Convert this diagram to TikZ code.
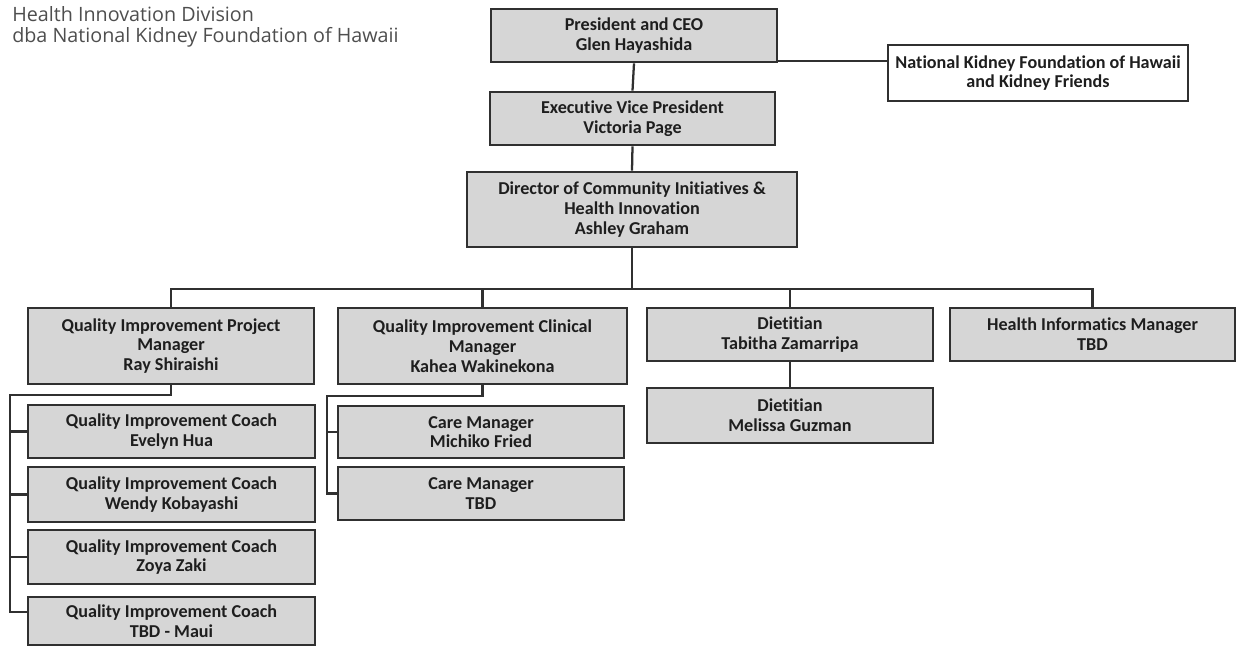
\documentclass[tikz,border=0pt]{standalone}
\usepackage{fontspec}
\setmainfont[Ligatures=NoCommon]{Carlito}
\newfontfamily\hdrfont{Open Sans}
\definecolor{boxfill}{HTML}{D6D6D6}
\definecolor{boxline}{HTML}{303030}
\definecolor{txt}{HTML}{1E1E1E}
\definecolor{hdrgray}{HTML}{4E4E4E}
\begin{document}
\begin{tikzpicture}[x=0.75pt,y=-0.75pt,
  orgbox/.style={draw=boxline,line width=2pt,fill=boxfill,inner sep=0pt,align=center,
    text=txt,font=\fontsize{13.6}{14.8}\selectfont\bfseries},
  wbox/.style={orgbox,fill=white},
  hdr/.style={anchor=base west,inner sep=0pt,text=hdrgray,font=\hdrfont\fontsize{14.8}{16}\selectfont},
  link/.style={draw=boxline,line width=1.7pt}]
\useasboundingbox (0,0) rectangle (1239,648);

% header
\node[hdr] (h1) at (12,22) {Health Innovation Division};
\node[hdr] (h2) at (12,43) {dba National Kidney Foundation of Hawaii};

% top
\node[orgbox,minimum width=286*0.75pt,minimum height=53*0.75pt] (ceo) at (634,35.5) {President and CEO\\Glen Hayashida};
\node[wbox,minimum width=300*0.75pt,minimum height=56*0.75pt] (nkf) at (1038,73) {National Kidney Foundation of Hawaii\\and Kidney Friends};
\node[orgbox,minimum width=285*0.75pt,minimum height=53*0.75pt] (evp) at (632.5,118.5) {Executive Vice President\\Victoria Page};
\node[orgbox,minimum width=330*0.75pt,minimum height=75*0.75pt] (dir) at (632,209.5) {Director of Community Initiatives \&\\Health Innovation\\Ashley Graham};

% second level
\node[orgbox,minimum width=286*0.75pt,minimum height=76*0.75pt] (qipm) at (171,346) {Quality Improvement Project\\Manager\\Ray Shiraishi};
\node[orgbox,minimum width=289*0.75pt,minimum height=76*0.75pt] (qicm) at (482.5,346) {Quality Improvement Clinical\\Manager\\Kahea Wakinekona};
\node[orgbox,minimum width=286*0.75pt,minimum height=53*0.75pt] (diet) at (790,334.5) {Dietitian\\Tabitha Zamarripa};
\node[orgbox,minimum width=285*0.75pt,minimum height=53*0.75pt] (him) at (1092.5,334.5) {Health Informatics Manager\\TBD};

% third level
\node[orgbox,minimum width=286*0.75pt,minimum height=55*0.75pt] (mel) at (790,415.5) {Dietitian\\Melissa Guzman};
\node[orgbox,minimum width=287*0.75pt,minimum height=53*0.75pt] (c1) at (171.5,431.5) {Quality Improvement Coach\\Evelyn Hua};
\node[orgbox,minimum width=287*0.75pt,minimum height=55*0.75pt] (c2) at (171.5,494.5) {Quality Improvement Coach\\Wendy Kobayashi};
\node[orgbox,minimum width=287*0.75pt,minimum height=54*0.75pt] (c3) at (171.5,557) {Quality Improvement Coach\\Zoya Zaki};
\node[orgbox,minimum width=287*0.75pt,minimum height=48*0.75pt] (c4) at (171.5,621) {Quality Improvement Coach\\TBD - Maui};
\node[orgbox,minimum width=286*0.75pt,minimum height=52*0.75pt] (cm1) at (481,432) {Care Manager\\Michiko Fried};
\node[orgbox,minimum width=286*0.75pt,minimum height=53*0.75pt] (cm2) at (481,493.5) {Care Manager\\TBD};

% connectors
\coordinate (bus) at (632,289);
\coordinate (qel) at (10,395);
\coordinate (qbot) at (10,612);
\coordinate (cel) at (327,396);

\draw[link] ([yshift=1.5pt]ceo.south east) -- ([yshift=1.5pt]ceo.south east -| nkf.west);
\draw[link] (ceo.south) -- (evp.north);
\draw[link] (evp.south) -- (dir.north);
\draw[link] (dir.south) -- (bus);
\draw[link] (qipm.north) -- (qipm.north |- bus) -- (him.north |- bus) -- (him.north);
\draw[link] (qicm.north |- bus) -- (qicm.north);
\draw[link] (diet.north |- bus) -- (diet.north);
\draw[link] (diet.south) -- (mel.north);
\draw[link] (qipm.south) -- (qipm.south |- qel) -- (qel) -- (qbot) -- (qbot -| c4.west);
\draw[link] (qel |- c1.west) -- (c1.west);
\draw[link] (qel |- c2.west) -- (c2.west);
\draw[link] (qel |- c3.west) -- (c3.west);
\draw[link] (qicm.south) -- (qicm.south |- cel) -- (cel) -- (cel |- cm2.west) -- (cm2.west);
\draw[link] (cel |- cm1.west) -- (cm1.west);
\end{tikzpicture}
\end{document}
